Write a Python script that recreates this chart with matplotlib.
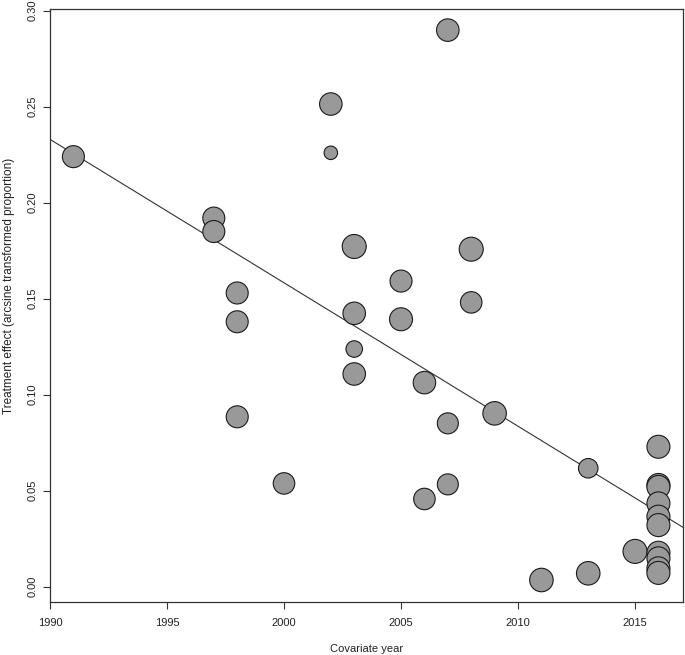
import matplotlib
matplotlib.use('Agg')
import matplotlib.pyplot as plt

### data ###
years = [1991, 1997, 1997, 1998, 1998, 1998, 2000, 2002, 2002,
         2003, 2003, 2003, 2003, 2005, 2005, 2006, 2006, 2007, 2007, 2007,
         2008, 2008, 2009, 2011, 2013, 2013, 2015,
         2016, 2016, 2016, 2016, 2016, 2016, 2016, 2016, 2016, 2016]
effect = [0.224, 0.192, 0.185, 0.153, 0.138, 0.0885, 0.0538, 0.2514, 0.226,
          0.1772, 0.1424, 0.1238, 0.1108, 0.1592, 0.1393, 0.1063, 0.0457, 0.2899, 0.0851, 0.0533,
          0.1758, 0.1481, 0.0903, 0.0035, 0.0617, 0.0070, 0.0184,
          0.0729, 0.0530, 0.0520, 0.0434, 0.0365, 0.0321, 0.0177, 0.0148, 0.0096, 0.0072]
# marker diameters, pixels
diam = [22, 22, 22, 22, 22, 22, 21.5, 22.5, 13.5,
        24, 22.5, 16.5, 22.5, 22, 23, 22.5, 21.5, 22.5, 21, 21,
        24, 21.5, 23.5, 23.5, 19.5, 23.5, 24,
        23, 23, 23, 23, 23, 23, 23, 23, 23, 23]

# fitted meta-regression line
line_x0 = 1990
line_y0 = 0.233
slope = -0.00747

xticks = [1990, 1995, 2000, 2005, 2010, 2015]
yticks = [0.00, 0.05, 0.10, 0.15, 0.20, 0.25, 0.30]

### plotting parameters ###
dpi = 100
fs = 8
px2pt = 72.0 / dpi
plt.rcParams['font.family'] = ['Liberation Sans', 'DejaVu Sans']

fig = plt.figure(figsize=(6.85, 6.55), dpi=dpi)
ax = fig.add_axes([50/685., 1 - 601.7/655., 633/685., 592.7/655.])

sizes = [(d * px2pt) ** 2 for d in diam]
ax.scatter(years, effect, s=sizes, facecolor='#999999', edgecolor='#1a1a1a',
           linewidths=0.8, zorder=3)
ax.axline((line_x0, line_y0), slope=slope, color='#333333', linewidth=0.8, zorder=2)

ax.set_xlim(1990, 2017.05)
ax.set_ylim(-0.0078, 0.3009)
ax.set_xticks(xticks)
ax.set_xticklabels([str(x) for x in xticks], fontsize=fs, color='#222222')
ax.set_yticks(yticks)
ax.set_yticklabels(['%.2f' % y for y in yticks], fontsize=fs, rotation=90,
                   va='center', color='#222222')
ax.tick_params(direction='out', length=5, width=0.8, color='#333333')
ax.tick_params(axis='x', pad=7)
ax.tick_params(axis='y', pad=4)
for sp in ax.spines.values():
    sp.set_linewidth(0.9)
    sp.set_color('#333333')

ax.set_xlabel('Covariate year', fontsize=fs, color='#222222')
ax.xaxis.set_label_coords(0.5, -0.072)
ax.set_ylabel('Treatment effect (arcsine transformed proportion)', fontsize=8.5,
              color='#222222')
ax.yaxis.set_label_coords(-0.056, 0.533)

plt.savefig('out.png', dpi=dpi)
plt.close()
